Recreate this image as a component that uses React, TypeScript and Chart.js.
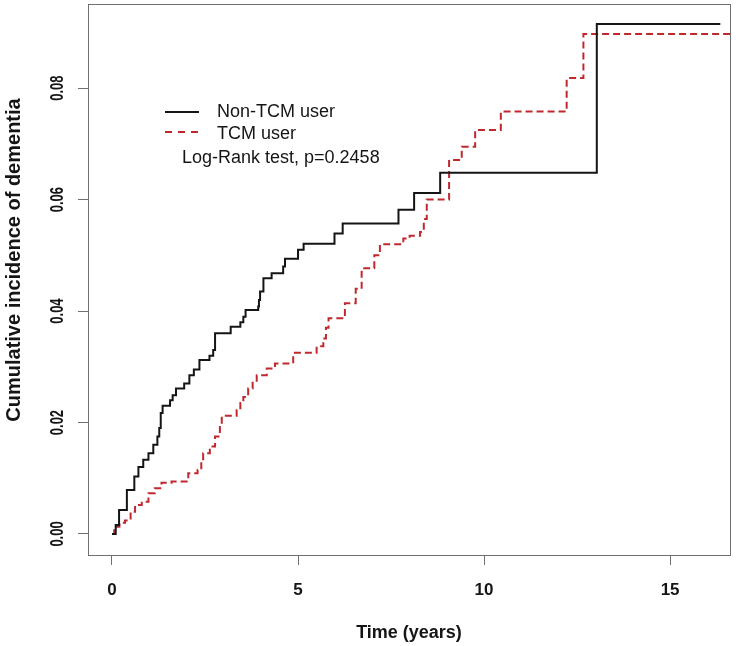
import React, { useEffect, useRef } from "react";
import { Chart, registerables } from "chart.js";

Chart.register(...registerables);

// ---- data ----
const seriesLabels = ["Non-TCM user", "TCM user"];
const testLabel = "Log-Rank test, p=0.2458";
const xTitle = "Time (years)";
const yTitle = "Cumulative incidence of dementia";

const nonTcmTime = [
  0, 0.1, 0.19, 0.4, 0.6, 0.71, 0.84, 0.98, 1.11, 1.22, 1.27, 1.31, 1.36, 1.56,
  1.63, 1.72, 1.94, 2.08, 2.2, 2.35, 2.62, 2.72, 2.77, 3.19, 3.45, 3.53, 3.59,
  3.93, 3.95, 3.98, 4.07, 4.29, 4.6, 4.65, 5.0, 5.15, 5.98, 6.2, 7.7, 8.12, 8.82,
  13.03, 16.35,
];
const nonTcmCum = [
  0, 0.0016, 0.0043, 0.0079, 0.0103, 0.012, 0.0133, 0.0145, 0.016, 0.0175, 0.019,
  0.0217, 0.023, 0.024, 0.0249, 0.0261, 0.027, 0.0285, 0.0295, 0.0312, 0.032,
  0.033, 0.036, 0.0372, 0.038, 0.039, 0.0402, 0.0408, 0.042, 0.0435, 0.0459,
  0.0468, 0.048, 0.0494, 0.051, 0.0521, 0.0539, 0.0557, 0.0582, 0.0612, 0.0648,
  0.0915, 0.0915,
];

const tcmTime = [
  0, 0.06, 0.2, 0.35, 0.5, 0.62, 0.8, 0.98, 1.15, 1.33, 1.6, 2.05, 2.3, 2.4, 2.45,
  2.63, 2.77, 2.9, 2.95, 3.35, 3.45, 3.53, 3.66, 3.78, 3.89, 4.16, 4.38, 4.87,
  5.5, 5.68, 5.75, 5.82, 6.26, 6.55, 6.71, 7.05, 7.2, 7.83, 8.0, 8.28, 8.38, 8.46,
  9.06, 9.4, 9.76, 10.45, 12.22, 12.67, 17,
];
const tcmCum = [
  0, 0.0013, 0.002, 0.0024, 0.004, 0.0052, 0.0058, 0.0073, 0.0082, 0.0092, 0.0094,
  0.0109, 0.0115, 0.013, 0.0145, 0.0157, 0.0175, 0.0195, 0.0212, 0.0222, 0.0235,
  0.0246, 0.0261, 0.0275, 0.0285, 0.0297, 0.0306, 0.0325, 0.0337, 0.0351, 0.037,
  0.0387, 0.0414, 0.044, 0.0477, 0.05, 0.052, 0.053, 0.0535, 0.0542, 0.0565, 0.06,
  0.0671, 0.0695, 0.0725, 0.0758, 0.0818, 0.0897, 0.0897,
];

const xTickValues = [0, 5, 10, 15];
const xTickLabels = ["0", "5", "10", "15"];
const yTickValues = [0, 0.02, 0.04, 0.06, 0.08];
const yTickLabels = ["0.00", "0.02", "0.04", "0.06", "0.08"];

const FONT = '"Liberation Sans", Arial, Helvetica, sans-serif';
const BLACK = "#151515";
const RED = "#c0282e";
const GRAY = "#707070";

const decorPlugin = {
  id: "decor",
  afterDraw(chart: any) {
    const ctx = chart.ctx as CanvasRenderingContext2D;
    const area = chart.chartArea;
    const xs = chart.scales.x;
    const ys = chart.scales.y;
    ctx.save();
    // box
    ctx.strokeStyle = GRAY;
    ctx.lineWidth = 1;
    ctx.strokeRect(
      Math.round(area.left) + 0.5,
      Math.round(area.top) + 0.5,
      Math.round(area.right - area.left),
      Math.round(area.bottom - area.top)
    );
    ctx.fillStyle = BLACK;
    // x tick labels
    ctx.font = `bold 17px ${FONT}`;
    ctx.textAlign = "center";
    ctx.textBaseline = "alphabetic";
    xTickValues.forEach((v, i) => {
      ctx.fillText(xTickLabels[i], xs.getPixelForValue(v), area.bottom + 40);
    });
    // y tick labels (rotated)
    ctx.font = `bold 18px ${FONT}`;
    yTickValues.forEach((v, i) => {
      ctx.save();
      ctx.translate(area.left - 25, ys.getPixelForValue(v));
      ctx.rotate(-Math.PI / 2);
      ctx.scale(0.72, 1);
      ctx.textAlign = "center";
      ctx.fillText(yTickLabels[i], 0, 0);
      ctx.restore();
    });
    // x title
    ctx.font = `bold 18px ${FONT}`;
    ctx.textAlign = "center";
    ctx.fillText(xTitle, (area.left + area.right) / 2, area.bottom + 83);
    // y title
    ctx.save();
    ctx.translate(20, 260);
    ctx.rotate(-Math.PI / 2);
    ctx.font = `bold 20px ${FONT}`;
    ctx.textAlign = "center";
    ctx.fillText(yTitle, 0, 0);
    ctx.restore();
    // legend
    ctx.lineWidth = 2;
    ctx.strokeStyle = BLACK;
    ctx.setLineDash([]);
    ctx.beginPath();
    ctx.moveTo(165, 112);
    ctx.lineTo(199, 112);
    ctx.stroke();
    ctx.strokeStyle = RED;
    ctx.setLineDash([7, 6]);
    ctx.beginPath();
    ctx.moveTo(165, 132);
    ctx.lineTo(199, 132);
    ctx.stroke();
    ctx.setLineDash([]);
    ctx.font = `18px ${FONT}`;
    ctx.textAlign = "left";
    ctx.fillStyle = BLACK;
    ctx.fillText(seriesLabels[0], 217, 117);
    ctx.fillText(seriesLabels[1], 217, 139);
    ctx.fillText(testLabel, 182, 163);
    ctx.restore();
  },
};

export default function App() {
  const ref = useRef<HTMLCanvasElement | null>(null);
  useEffect(() => {
    if (!ref.current) return;
    const chart = new Chart(ref.current, {
      type: "line",
      data: {
        datasets: [
          {
            label: seriesLabels[0],
            data: nonTcmTime.map((t, i) => ({ x: t, y: nonTcmCum[i] })),
            borderColor: BLACK,
            borderWidth: 2,
            stepped: "before",
            pointRadius: 0,
            fill: false,
            clip: 0,
          },
          {
            label: seriesLabels[1],
            data: tcmTime.map((t, i) => ({ x: t, y: tcmCum[i] })),
            borderColor: RED,
            borderWidth: 2,
            borderDash: [7, 4],
            stepped: "before",
            pointRadius: 0,
            fill: false,
            clip: 0,
          },
        ],
      },
      options: {
        responsive: false,
        animation: false,
        events: [],
        layout: { padding: { left: 0, right: 6, top: 4, bottom: 0 } },
        plugins: { legend: { display: false }, tooltip: { enabled: false } },
        scales: {
          x: {
            type: "linear",
            min: -0.645,
            max: 16.61,
            ticks: { display: false },
            afterBuildTicks: (s: any) => {
              s.ticks = xTickValues.map((v) => ({ value: v }));
            },
            afterFit: (s: any) => {
              s.height = 91;
            },
            grid: {
              drawOnChartArea: false,
              drawTicks: true,
              tickLength: 10,
              color: GRAY,
              lineWidth: 1,
            },
            border: { display: false },
          },
          y: {
            type: "linear",
            min: -0.00377,
            max: 0.0951,
            ticks: { display: false },
            afterBuildTicks: (s: any) => {
              s.ticks = yTickValues.map((v) => ({ value: v }));
            },
            afterFit: (s: any) => {
              s.width = 88;
            },
            grid: {
              drawOnChartArea: false,
              drawTicks: true,
              tickLength: 10,
              color: GRAY,
              lineWidth: 1,
            },
            border: { display: false },
          },
        },
      },
      plugins: [decorPlugin],
    } as any);
    return () => chart.destroy();
  }, []);
  return (
    <div style={{ position: "absolute", left: 0, top: 0, width: 736, height: 646, background: "#fff" }}>
      <canvas ref={ref} width={736} height={646} style={{ display: "block" }} />
    </div>
  );
}
